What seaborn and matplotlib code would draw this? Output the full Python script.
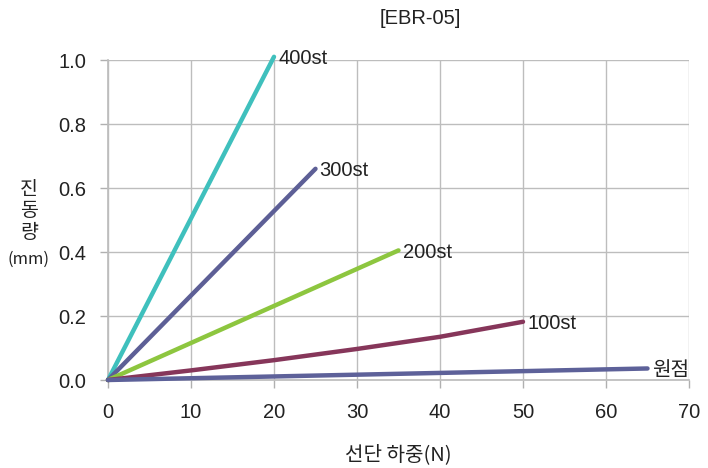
import pandas as pd
import matplotlib.pyplot as plt
import seaborn as sns

# 하중(N) vs 진동량(mm) per stroke
series_names = ['400st', '300st', '200st', '100st', '원점']
load_400 = [0, 20]
disp_400 = [0, 1.01]
load_300 = [0, 25]
disp_300 = [0, 0.66]
load_200 = [0, 35]
disp_200 = [0, 0.405]
load_100 = [0, 10, 20, 30, 40, 50]
disp_100 = [0, 0.03, 0.062, 0.097, 0.135, 0.182]
load_org = [0, 65]
disp_org = [0, 0.036]

x_ticks = [0, 10, 20, 30, 40, 50, 60, 70]
y_ticks = [0.0, 0.2, 0.4, 0.6, 0.8, 1.0]

colors = ['#3fc0bd', '#5d5f96', '#8dc63f', '#86365a', '#5d6199']

frames = []
for name, xs, ys in zip(series_names,
                        [load_400, load_300, load_200, load_100, load_org],
                        [disp_400, disp_300, disp_200, disp_100, disp_org]):
    frames.append(pd.DataFrame({'load': xs, 'disp': ys, 'series': name}))
df = pd.concat(frames, ignore_index=True)

sns.set_theme(style="white")
plt.rcParams['font.family'] = ['Liberation Sans', 'Noto Sans CJK KR', 'DejaVu Sans']
kr = ['Noto Sans CJK KR', 'DejaVu Sans']

fig = plt.figure(figsize=(7.08, 4.68), dpi=100)
ax = fig.add_axes([108 / 708, 1 - 380 / 468, (689 - 108) / 708, 320 / 468])

sns.lineplot(data=df, x='load', y='disp', hue='series', hue_order=series_names,
             palette=colors, linewidth=3.2, legend=False, ax=ax, sort=False,
             solid_capstyle='round')
for line in ax.lines:
    line.set_clip_on(False)
    line.set_zorder(3)

ax.set_xlim(0, 70)
ax.set_ylim(0, 1.0)
ax.set_xticks(x_ticks)
ax.set_yticks(y_ticks)
ax.set_xticklabels([str(t) for t in x_ticks])
ax.set_yticklabels([f'{t:.1f}' for t in y_ticks])
ax.tick_params(labelsize=14.5, labelcolor='#222222', direction='out',
               length=5.8, width=1, color='#b0b0b0')
ax.tick_params(axis='y', pad=10, left=True)
ax.tick_params(axis='x', pad=11, bottom=True)
ax.grid(True, color='#bdbdbd', linewidth=1)
ax.set_xlabel('')
ax.set_ylabel('')
for s in ax.spines.values():
    s.set_visible(False)
for sp in ['left', 'bottom']:
    ax.spines[sp].set_visible(True)
    ax.spines[sp].set_color('#bdbdbd')

# end labels
ends = [(load_400[-1], disp_400[-1]), (load_300[-1], disp_300[-1]),
        (load_200[-1], disp_200[-1]), (load_100[-1], disp_100[-1]),
        (load_org[-1], disp_org[-1])]
for name, (x, y) in zip(series_names, ends):
    ax.text(x + 0.5, y - 0.005, name, fontsize=14.5, va='center', ha='left',
            color='#222222', clip_on=False)

fig.text(420 / 708, 1 - 19 / 468, '[EBR-05]', fontsize=14.5, ha='center', va='center',
         color='#222222')
fig.text(398 / 708, 1 - 455 / 468, '선단 하중(N)', fontsize=14.5, ha='center', va='center',
         color='#222222', family=kr)
# stacked y label
for ch, ypx in zip('진동량', [189, 211, 233]):
    fig.text(29 / 708, 1 - ypx / 468, ch, fontsize=14, ha='center', va='center',
             color='#222222', family=kr)
fig.text(29 / 708, 1 - 259 / 468, '(mm)', fontsize=12, ha='center', va='center',
         color='#222222', family=kr)

fig.savefig('out.png', dpi=100)
